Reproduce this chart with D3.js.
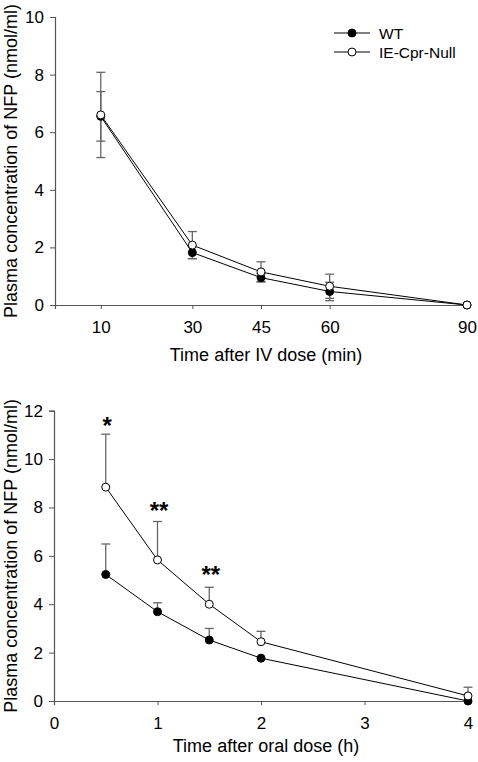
<!DOCTYPE html>
<html>
<head>
<meta charset="utf-8">
<script src="https://cdn.jsdelivr.net/npm/d3@7"></script>
<style>
  html, body { margin: 0; padding: 0; background: #fff; }
  svg { display: block; }
  text { font-family: "Liberation Sans", Arial, sans-serif; fill: #000; }
</style>
</head>
<body>
<svg id="chart" width="478" height="762"></svg>
<script>
// ---------- data ----------
const ivTimes = [10, 30, 45, 60, 90];
const ivWT = [6.55, 1.82, 0.95, 0.47, 0];
const ivWTErr = [0.86, 0.21, 0.14, 0.32, 0];
const ivNull = [6.6, 2.08, 1.15, 0.65, 0];
const ivNullErr = [1.48, 0.47, 0.35, 0.42, 0];
const ivXTicks = [10, 30, 45, 60, 90];
const ivYTicks = [0, 2, 4, 6, 8, 10];

const oralTimes = [0.5, 1, 1.5, 2, 4];
const oralWT = [5.23, 3.69, 2.52, 1.77, 0];
const oralWTErr = [1.26, 0.37, 0.48, 0, 0];
const oralNull = [8.84, 5.83, 4.0, 2.45, 0.21];
const oralNullErr = [2.19, 1.59, 0.70, 0.43, 0.36];
const oralXTicks = [0, 1, 2, 3, 4];
const oralYTicks = [0, 2, 4, 6, 8, 10, 12];

const starTimes = [0.5, 1, 1.5];
const starLevels = [11.03, 7.53, 4.89];
const starLabels = ["*", "**", "**"];

const seriesNames = ["WT", "IE-Cpr-Null"];
const yTitle = "Plasma concentration of NFP (nmol/ml)";
const ivXTitle = "Time after IV dose (min)";
const oralXTitle = "Time after oral dose (h)";

// ---------- drawing ----------
const svg = d3.select("#chart");
const axisColor = "#555";
const errColor = "#666";
const fmt = d3.format("d");

function panel(opts) {
  const x = d3.scaleLinear().domain(opts.xDomain).range(opts.xRange);
  const y = d3.scaleLinear().domain(opts.yDomain).range(opts.yRange);
  const g = svg.append("g");

  const xAxis = g.append("g")
    .attr("transform", `translate(0,${opts.yRange[0]})`)
    .call(d3.axisBottom(x).tickValues(opts.xTicks).tickFormat(fmt).tickSizeOuter(0).tickSize(4).tickPadding(12));
  const yAxis = g.append("g")
    .attr("transform", `translate(${opts.xRange[0]},0)`)
    .call(d3.axisLeft(y).tickValues(opts.yTicks).tickFormat(fmt).tickSizeOuter(0).tickSize(5).tickPadding(6));
  [xAxis, yAxis].forEach(a => {
    a.selectAll("path.domain").attr("stroke", axisColor).attr("stroke-width", 1.2);
    a.selectAll(".tick line").attr("stroke", axisColor).attr("stroke-width", 1);
    a.selectAll(".tick text").style("font-size", "17px").attr("fill", "#000")
      .style("font-family", '"Liberation Sans", Arial, sans-serif');
  });

  g.append("text")
    .attr("x", (opts.xRange[0] + opts.xRange[1]) / 2 + 5)
    .attr("y", opts.xTitleY)
    .attr("text-anchor", "middle")
    .style("font-size", "18px")
    .text(opts.xTitle);
  g.append("text")
    .attr("transform", `translate(17,${(opts.yRange[0] + opts.yRange[1]) / 2}) rotate(-90)`)
    .attr("text-anchor", "middle")
    .style("font-size", "18px")
    .text(yTitle);

  const line = d3.line().x(d => x(d[0])).y(d => y(d[1]));
  const series = [
    { t: opts.times, v: opts.wt, e: opts.wtErr, fill: "#000" },
    { t: opts.times, v: opts.nul, e: opts.nulErr, fill: "#fff" }
  ];

  series.forEach(s => {
    s.t.forEach((t, i) => {
      if (!s.e[i]) return;
      const hi = y(s.v[i] + s.e[i]);
      const lo = opts.symmetric ? y(s.v[i] - s.e[i]) : y(s.v[i]);
      const cx = x(t);
      g.append("line").attr("x1", cx).attr("x2", cx).attr("y1", hi).attr("y2", lo)
        .attr("stroke", errColor).attr("stroke-width", 1.3);
      g.append("line").attr("x1", cx - 4.5).attr("x2", cx + 4.5).attr("y1", hi).attr("y2", hi)
        .attr("stroke", errColor).attr("stroke-width", 1.3);
      if (opts.symmetric) {
        g.append("line").attr("x1", cx - 4.5).attr("x2", cx + 4.5).attr("y1", lo).attr("y2", lo)
          .attr("stroke", errColor).attr("stroke-width", 1.3);
      }
    });
  });

  series.forEach(s => {
    g.append("path").datum(s.t.map((t, i) => [t, s.v[i]]))
      .attr("d", line).attr("fill", "none").attr("stroke", "#000").attr("stroke-width", 1);
  });
  series.forEach(s => {
    g.selectAll(null).data(s.t.map((t, i) => [t, s.v[i]])).enter().append("circle")
      .attr("cx", d => x(d[0])).attr("cy", d => y(d[1])).attr("r", 4)
      .attr("fill", s.fill).attr("stroke", "#000").attr("stroke-width", 1);
  });
  return { g, x, y };
}

const ivPanel = panel({
  xDomain: [0, 90], xRange: [55, 467],
  yDomain: [0, 10], yRange: [305, 17],
  xTicks: ivXTicks, yTicks: ivYTicks,
  times: ivTimes, wt: ivWT, wtErr: ivWTErr, nul: ivNull, nulErr: ivNullErr,
  symmetric: true, xTitle: ivXTitle, xTitleY: 361
});

const legendX0 = 334, legendX1 = 370, legendYs = [33, 52], legendFills = ["#000", "#fff"];
seriesNames.forEach((name, i) => {
  const lg = svg.append("g");
  lg.append("line").attr("x1", legendX0).attr("x2", legendX1)
    .attr("y1", legendYs[i]).attr("y2", legendYs[i]).attr("stroke", "#000").attr("stroke-width", 1);
  lg.append("circle").attr("cx", (legendX0 + legendX1) / 2).attr("cy", legendYs[i]).attr("r", 4)
    .attr("fill", legendFills[i]).attr("stroke", "#000");
  lg.append("text").attr("x", 379).attr("y", legendYs[i] + 5.5)
    .style("font-size", "15.5px").text(name);
});

const oralPanel = panel({
  xDomain: [0, 4], xRange: [54, 468],
  yDomain: [0, 12], yRange: [701, 410.7],
  xTicks: oralXTicks, yTicks: oralYTicks,
  times: oralTimes, wt: oralWT, wtErr: oralWTErr, nul: oralNull, nulErr: oralNullErr,
  symmetric: false, xTitle: oralXTitle, xTitleY: 752
});

starTimes.forEach((t, i) => {
  oralPanel.g.append("text")
    .attr("x", oralPanel.x(t) + 1.5).attr("y", oralPanel.y(starLevels[i]))
    .attr("text-anchor", "middle")
    .style("font-size", "24px").style("font-weight", "bold")
    .text(starLabels[i]);
});
</script>
</body>
</html>
